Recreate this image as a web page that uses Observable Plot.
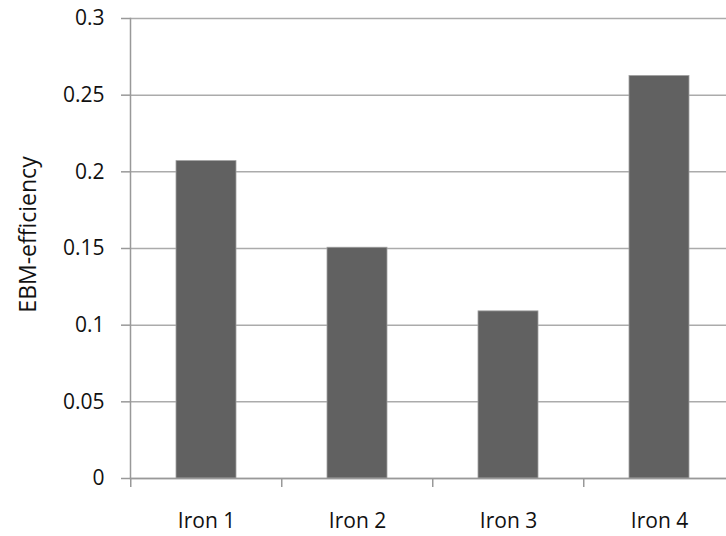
<!DOCTYPE html>
<html>
<head>
<meta charset="utf-8">
<script src="https://cdn.jsdelivr.net/npm/d3@7"></script>
<script src="https://cdn.jsdelivr.net/npm/@observablehq/plot@0.6"></script>
<style>
  html, body { margin: 0; padding: 0; background: #fff; }
  #chart svg { display: block; overflow: visible; }
</style>
</head>
<body>
<div id="chart"></div>
<script>
const categories = ["Iron 1", "Iron 2", "Iron 3", "Iron 4"];
const values = [0.207, 0.1505, 0.109, 0.2625];
const yTicks = [0, 0.05, 0.1, 0.15, 0.2, 0.25, 0.3];
const yTickLabels = ["0", "0.05", "0.1", "0.15", "0.2", "0.25", "0.3"];
const yTitle = "EBM-efficiency";

const data = categories.map((c, i) => ({cat: c, value: values[i]}));
const labelOf = new Map(yTicks.map((t, i) => [t, yTickLabels[i]]));

const chart = Plot.plot({
  width: 726,
  height: 536,
  marginLeft: 130,
  marginTop: 18,
  marginBottom: 58,
  marginRight: 0,
  x: {domain: categories, range: [130, 736], paddingInner: 0.6, paddingOuter: 0.3, label: null},
  y: {domain: [0, 0.3], label: null},
  style: {fontFamily: "'Open Sans', sans-serif", fontSize: "21px", color: "#111", background: "#fff"},
  marks: [
    Plot.ruleY(yTicks, {stroke: "#ababab", strokeWidth: 1.5, strokeOpacity: 1}),
    Plot.barY(data, {x: "cat", y: "value", fill: "#616161", stroke: "#a0a0a0", strokeWidth: 0.8}),
    Plot.frame({anchor: "left", stroke: "#999", strokeWidth: 1.5}),
    Plot.frame({anchor: "bottom", stroke: "#999", strokeWidth: 1.5}),
    Plot.axisY({
      ticks: yTicks,
      tickFormat: d => labelOf.get(d),
      tickSize: 9,
      tickPadding: 17,
      stroke: "#999",
      strokeWidth: 1.5,
      strokeOpacity: 1,
      label: null
    }),
    Plot.text([yTitle], {
      text: d => d,
      frameAnchor: "left",
      rotate: -90,
      textAnchor: "middle",
      lineAnchor: "middle",
      fontSize: 23,
      fill: "#111",
      dx: -102,
      dy: -14
    }),
    Plot.axisX({tickSize: 9, text: null, dx: -75.75, stroke: "#999", strokeWidth: 1.5, strokeOpacity: 1, label: null}),
    Plot.axisX({tickSize: 0, tickPadding: 35, label: null})
  ]
});
document.getElementById("chart").appendChild(chart);
</script>
</body>
</html>
